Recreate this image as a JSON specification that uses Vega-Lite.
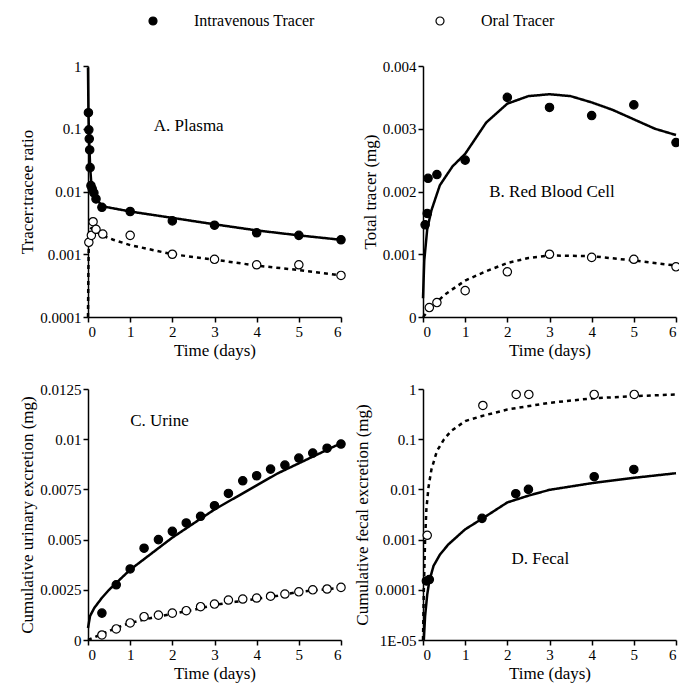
{
"$schema":"https://vega.github.io/schema/vega-lite/v6.json",
"background":"white",
"padding":{"left":18,"top":13,"right":0,"bottom":4},
"datasets":{
"pts":[
{"p":"A","tr":"Intravenous Tracer","t":0.01,"v":0.18},{"p":"A","tr":"Intravenous Tracer","t":0.02,"v":0.096},{"p":"A","tr":"Intravenous Tracer","t":0.03,"v":0.069},{"p":"A","tr":"Intravenous Tracer","t":0.04,"v":0.046},{"p":"A","tr":"Intravenous Tracer","t":0.05,"v":0.024},{"p":"A","tr":"Intravenous Tracer","t":0.07,"v":0.0124},{"p":"A","tr":"Intravenous Tracer","t":0.1,"v":0.011},{"p":"A","tr":"Intravenous Tracer","t":0.14,"v":0.0095},{"p":"A","tr":"Intravenous Tracer","t":0.19,"v":0.0076},{"p":"A","tr":"Intravenous Tracer","t":0.33,"v":0.0056},{"p":"A","tr":"Intravenous Tracer","t":1,"v":0.0048},{"p":"A","tr":"Intravenous Tracer","t":2,"v":0.0034},{"p":"A","tr":"Intravenous Tracer","t":3,"v":0.0029},{"p":"A","tr":"Intravenous Tracer","t":4,"v":0.0022},{"p":"A","tr":"Intravenous Tracer","t":5,"v":0.002},{"p":"A","tr":"Intravenous Tracer","t":6,"v":0.0017},
{"p":"A","tr":"Oral Tracer","t":0.02,"v":0.00155},{"p":"A","tr":"Oral Tracer","t":0.08,"v":0.002},{"p":"A","tr":"Oral Tracer","t":0.12,"v":0.0033},{"p":"A","tr":"Oral Tracer","t":0.19,"v":0.0025},{"p":"A","tr":"Oral Tracer","t":0.35,"v":0.0021},{"p":"A","tr":"Oral Tracer","t":1,"v":0.002},{"p":"A","tr":"Oral Tracer","t":2,"v":0.001},{"p":"A","tr":"Oral Tracer","t":3,"v":0.00083},{"p":"A","tr":"Oral Tracer","t":4,"v":0.00068},{"p":"A","tr":"Oral Tracer","t":5,"v":0.00068},{"p":"A","tr":"Oral Tracer","t":6,"v":0.00046},
{"p":"B","tr":"Intravenous Tracer","t":0.05,"v":0.00147},{"p":"B","tr":"Intravenous Tracer","t":0.1,"v":0.00165},{"p":"B","tr":"Intravenous Tracer","t":0.12,"v":0.00221},{"p":"B","tr":"Intravenous Tracer","t":0.33,"v":0.00227},{"p":"B","tr":"Intravenous Tracer","t":1,"v":0.0025},{"p":"B","tr":"Intravenous Tracer","t":2,"v":0.0035},{"p":"B","tr":"Intravenous Tracer","t":3,"v":0.00334},{"p":"B","tr":"Intravenous Tracer","t":4,"v":0.00321},{"p":"B","tr":"Intravenous Tracer","t":5,"v":0.00338},{"p":"B","tr":"Intravenous Tracer","t":6,"v":0.00278},
{"p":"B","tr":"Oral Tracer","t":0.15,"v":0.00015},{"p":"B","tr":"Oral Tracer","t":0.33,"v":0.00023},{"p":"B","tr":"Oral Tracer","t":1,"v":0.00042},{"p":"B","tr":"Oral Tracer","t":2,"v":0.00072},{"p":"B","tr":"Oral Tracer","t":3,"v":0.001},{"p":"B","tr":"Oral Tracer","t":4,"v":0.00095},{"p":"B","tr":"Oral Tracer","t":5,"v":0.00092},{"p":"B","tr":"Oral Tracer","t":6,"v":0.0008},
{"p":"C","tr":"Intravenous Tracer","t":0.33,"v":0.00134},{"p":"C","tr":"Intravenous Tracer","t":0.67,"v":0.00275},{"p":"C","tr":"Intravenous Tracer","t":1,"v":0.00354},{"p":"C","tr":"Intravenous Tracer","t":1.33,"v":0.00457},{"p":"C","tr":"Intravenous Tracer","t":1.67,"v":0.005},{"p":"C","tr":"Intravenous Tracer","t":2,"v":0.00541},{"p":"C","tr":"Intravenous Tracer","t":2.33,"v":0.00583},{"p":"C","tr":"Intravenous Tracer","t":2.67,"v":0.00616},{"p":"C","tr":"Intravenous Tracer","t":3,"v":0.00669},{"p":"C","tr":"Intravenous Tracer","t":3.33,"v":0.0073},{"p":"C","tr":"Intravenous Tracer","t":3.67,"v":0.00793},{"p":"C","tr":"Intravenous Tracer","t":4,"v":0.00818},{"p":"C","tr":"Intravenous Tracer","t":4.33,"v":0.00851},{"p":"C","tr":"Intravenous Tracer","t":4.67,"v":0.00871},{"p":"C","tr":"Intravenous Tracer","t":5,"v":0.00906},{"p":"C","tr":"Intravenous Tracer","t":5.33,"v":0.00931},{"p":"C","tr":"Intravenous Tracer","t":5.67,"v":0.00955},{"p":"C","tr":"Intravenous Tracer","t":6,"v":0.00976},
{"p":"C","tr":"Oral Tracer","t":0.33,"v":0.00025},{"p":"C","tr":"Oral Tracer","t":0.67,"v":0.00055},{"p":"C","tr":"Oral Tracer","t":1,"v":0.00085},{"p":"C","tr":"Oral Tracer","t":1.33,"v":0.00116},{"p":"C","tr":"Oral Tracer","t":1.67,"v":0.00124},{"p":"C","tr":"Oral Tracer","t":2,"v":0.00134},{"p":"C","tr":"Oral Tracer","t":2.33,"v":0.00146},{"p":"C","tr":"Oral Tracer","t":2.67,"v":0.00166},{"p":"C","tr":"Oral Tracer","t":3,"v":0.00179},{"p":"C","tr":"Oral Tracer","t":3.33,"v":0.00199},{"p":"C","tr":"Oral Tracer","t":3.67,"v":0.00204},{"p":"C","tr":"Oral Tracer","t":4,"v":0.00209},{"p":"C","tr":"Oral Tracer","t":4.33,"v":0.00218},{"p":"C","tr":"Oral Tracer","t":4.67,"v":0.00229},{"p":"C","tr":"Oral Tracer","t":5,"v":0.0024},{"p":"C","tr":"Oral Tracer","t":5.33,"v":0.0025},{"p":"C","tr":"Oral Tracer","t":5.67,"v":0.00254},{"p":"C","tr":"Oral Tracer","t":6,"v":0.00262},
{"p":"D","tr":"Oral Tracer","t":0.1,"v":0.00122},{"p":"D","tr":"Oral Tracer","t":1.42,"v":0.47},{"p":"D","tr":"Oral Tracer","t":2.21,"v":0.78},{"p":"D","tr":"Oral Tracer","t":2.51,"v":0.78},{"p":"D","tr":"Oral Tracer","t":4.06,"v":0.78},{"p":"D","tr":"Oral Tracer","t":5.01,"v":0.78},
{"p":"D","tr":"Intravenous Tracer","t":0.08,"v":0.00015},{"p":"D","tr":"Intravenous Tracer","t":0.15,"v":0.00016},{"p":"D","tr":"Intravenous Tracer","t":1.4,"v":0.00265},{"p":"D","tr":"Intravenous Tracer","t":2.2,"v":0.0082},{"p":"D","tr":"Intravenous Tracer","t":2.5,"v":0.01},{"p":"D","tr":"Intravenous Tracer","t":4.06,"v":0.0179},{"p":"D","tr":"Intravenous Tracer","t":5.0,"v":0.025}
],
"fits":[
{"p":"A","fit":"Intravenous","t":0,"v":0.95},{"p":"A","fit":"Intravenous","t":0.01,"v":0.2},{"p":"A","fit":"Intravenous","t":0.02,"v":0.1},{"p":"A","fit":"Intravenous","t":0.03,"v":0.06},{"p":"A","fit":"Intravenous","t":0.05,"v":0.025},{"p":"A","fit":"Intravenous","t":0.08,"v":0.013},{"p":"A","fit":"Intravenous","t":0.12,"v":0.0095},{"p":"A","fit":"Intravenous","t":0.2,"v":0.0075},{"p":"A","fit":"Intravenous","t":0.35,"v":0.0058},{"p":"A","fit":"Intravenous","t":1,"v":0.0048},{"p":"A","fit":"Intravenous","t":2,"v":0.0038},{"p":"A","fit":"Intravenous","t":3,"v":0.003},{"p":"A","fit":"Intravenous","t":4,"v":0.0024},{"p":"A","fit":"Intravenous","t":5,"v":0.002},{"p":"A","fit":"Intravenous","t":6,"v":0.0017},
{"p":"A","fit":"Oral","t":0,"v":0.0001},{"p":"A","fit":"Oral","t":0.01,"v":0.0006},{"p":"A","fit":"Oral","t":0.02,"v":0.0015},{"p":"A","fit":"Oral","t":0.04,"v":0.0024},{"p":"A","fit":"Oral","t":0.08,"v":0.0026},{"p":"A","fit":"Oral","t":0.15,"v":0.0024},{"p":"A","fit":"Oral","t":0.33,"v":0.002},{"p":"A","fit":"Oral","t":0.6,"v":0.0017},{"p":"A","fit":"Oral","t":1,"v":0.0014},{"p":"A","fit":"Oral","t":2,"v":0.001},{"p":"A","fit":"Oral","t":3,"v":0.00082},{"p":"A","fit":"Oral","t":4,"v":0.00066},{"p":"A","fit":"Oral","t":5,"v":0.00056},{"p":"A","fit":"Oral","t":6,"v":0.00046},
{"p":"B","fit":"Intravenous","t":0,"v":0.0003},{"p":"B","fit":"Intravenous","t":0.03,"v":0.0009},{"p":"B","fit":"Intravenous","t":0.1,"v":0.0014},{"p":"B","fit":"Intravenous","t":0.2,"v":0.0017},{"p":"B","fit":"Intravenous","t":0.4,"v":0.0021},{"p":"B","fit":"Intravenous","t":0.7,"v":0.0024},{"p":"B","fit":"Intravenous","t":1,"v":0.0026},{"p":"B","fit":"Intravenous","t":1.5,"v":0.0031},{"p":"B","fit":"Intravenous","t":2,"v":0.0034},{"p":"B","fit":"Intravenous","t":2.5,"v":0.00352},{"p":"B","fit":"Intravenous","t":3,"v":0.00355},{"p":"B","fit":"Intravenous","t":3.5,"v":0.00352},{"p":"B","fit":"Intravenous","t":4,"v":0.00342},{"p":"B","fit":"Intravenous","t":4.5,"v":0.0033},{"p":"B","fit":"Intravenous","t":5,"v":0.00315},{"p":"B","fit":"Intravenous","t":5.5,"v":0.003},{"p":"B","fit":"Intravenous","t":6,"v":0.0029},
{"p":"B","fit":"Oral","t":0,"v":0},{"p":"B","fit":"Oral","t":0.2,"v":0.00015},{"p":"B","fit":"Oral","t":0.5,"v":0.00035},{"p":"B","fit":"Oral","t":1,"v":0.00058},{"p":"B","fit":"Oral","t":1.5,"v":0.00073},{"p":"B","fit":"Oral","t":2,"v":0.00086},{"p":"B","fit":"Oral","t":2.5,"v":0.00094},{"p":"B","fit":"Oral","t":3,"v":0.00098},{"p":"B","fit":"Oral","t":4,"v":0.00097},{"p":"B","fit":"Oral","t":5,"v":0.0009},{"p":"B","fit":"Oral","t":6,"v":0.00082},
{"p":"C","fit":"Intravenous","t":0,"v":0.0006},{"p":"C","fit":"Intravenous","t":0.05,"v":0.0012},{"p":"C","fit":"Intravenous","t":0.15,"v":0.0016},{"p":"C","fit":"Intravenous","t":0.33,"v":0.0021},{"p":"C","fit":"Intravenous","t":0.5,"v":0.0025},{"p":"C","fit":"Intravenous","t":0.75,"v":0.003},{"p":"C","fit":"Intravenous","t":1,"v":0.0035},{"p":"C","fit":"Intravenous","t":1.5,"v":0.0043},{"p":"C","fit":"Intravenous","t":2,"v":0.0051},{"p":"C","fit":"Intravenous","t":2.5,"v":0.0058},{"p":"C","fit":"Intravenous","t":3,"v":0.0065},{"p":"C","fit":"Intravenous","t":3.5,"v":0.0071},{"p":"C","fit":"Intravenous","t":4,"v":0.0077},{"p":"C","fit":"Intravenous","t":4.5,"v":0.0083},{"p":"C","fit":"Intravenous","t":5,"v":0.0088},{"p":"C","fit":"Intravenous","t":5.5,"v":0.0093},{"p":"C","fit":"Intravenous","t":6,"v":0.0098},
{"p":"C","fit":"Oral","t":0,"v":0},{"p":"C","fit":"Oral","t":0.33,"v":0.0003},{"p":"C","fit":"Oral","t":0.67,"v":0.0006},{"p":"C","fit":"Oral","t":1,"v":0.00085},{"p":"C","fit":"Oral","t":1.5,"v":0.0011},{"p":"C","fit":"Oral","t":2,"v":0.0013},{"p":"C","fit":"Oral","t":2.5,"v":0.0015},{"p":"C","fit":"Oral","t":3,"v":0.00175},{"p":"C","fit":"Oral","t":3.5,"v":0.0019},{"p":"C","fit":"Oral","t":4,"v":0.00205},{"p":"C","fit":"Oral","t":4.5,"v":0.0022},{"p":"C","fit":"Oral","t":5,"v":0.0024},{"p":"C","fit":"Oral","t":5.5,"v":0.0025},{"p":"C","fit":"Oral","t":6,"v":0.0026},
{"p":"D","fit":"Intravenous","t":0.02,"v":0.00001},{"p":"D","fit":"Intravenous","t":0.05,"v":0.00003},{"p":"D","fit":"Intravenous","t":0.1,"v":0.00008},{"p":"D","fit":"Intravenous","t":0.15,"v":0.00015},{"p":"D","fit":"Intravenous","t":0.25,"v":0.0003},{"p":"D","fit":"Intravenous","t":0.4,"v":0.0005},{"p":"D","fit":"Intravenous","t":0.6,"v":0.0008},{"p":"D","fit":"Intravenous","t":1,"v":0.0016},{"p":"D","fit":"Intravenous","t":1.4,"v":0.0026},{"p":"D","fit":"Intravenous","t":2,"v":0.0055},{"p":"D","fit":"Intravenous","t":2.5,"v":0.0075},{"p":"D","fit":"Intravenous","t":3,"v":0.0098},{"p":"D","fit":"Intravenous","t":4,"v":0.0133},{"p":"D","fit":"Intravenous","t":5,"v":0.017},{"p":"D","fit":"Intravenous","t":6,"v":0.021},
{"p":"D","fit":"Oral","t":0,"v":0.00001},{"p":"D","fit":"Oral","t":0.02,"v":0.0001},{"p":"D","fit":"Oral","t":0.05,"v":0.001},{"p":"D","fit":"Oral","t":0.08,"v":0.004},{"p":"D","fit":"Oral","t":0.13,"v":0.011},{"p":"D","fit":"Oral","t":0.2,"v":0.025},{"p":"D","fit":"Oral","t":0.33,"v":0.058},{"p":"D","fit":"Oral","t":0.5,"v":0.1},{"p":"D","fit":"Oral","t":0.67,"v":0.146},{"p":"D","fit":"Oral","t":1,"v":0.23},{"p":"D","fit":"Oral","t":1.4,"v":0.29},{"p":"D","fit":"Oral","t":2,"v":0.39},{"p":"D","fit":"Oral","t":3,"v":0.53},{"p":"D","fit":"Oral","t":4,"v":0.65},{"p":"D","fit":"Oral","t":5,"v":0.72},{"p":"D","fit":"Oral","t":6,"v":0.78}
],
"labels":[
{"p":"A","t":1.56,"v":0.11,"label":"A. Plasma"},
{"p":"B","t":1.57,"v":0.002,"label":"B. Red Blood Cell"},
{"p":"C","t":1.0,"v":0.0109,"label":"C. Urine"},
{"p":"D","t":2.1,"v":0.00041,"label":"D. Fecal"}
]
},
"columns":2,
"spacing":{"row":72,"column":82},
"bounds":"flush",
"concat":[
{"width":253,"height":251,
 "encoding":{
  "x":{"field":"t","type":"quantitative","scale":{"domain":[0,6],"nice":false},"axis":{"values":[0,1,2,3,4,5,6],"title":"Time (days)"}},
  "y":{"field":"v","type":"quantitative","scale":{"type":"log","domain":[0.0001,1],"nice":false},"axis":{"values":[0.0001,0.001,0.01,0.1,1],"labelExpr":"format(datum.value, '~g')","title":"Tracer:tracee ratio"}}
 },
 "layer":[
  {"data":{"name":"fits"},"transform":[{"filter":"datum.p==='A'"}],"mark":{"type":"line","color":"black","strokeWidth":2.5},"encoding":{"strokeDash":{"field":"fit","type":"nominal","scale":{"domain":["Intravenous","Oral"],"range":[[1,0],[4,4]]},"legend":null},"order":{"field":"t"}}},
  {"data":{"name":"pts"},"transform":[{"filter":"datum.p==='A'"}],"mark":{"type":"point","shape":"circle","filled":true,"stroke":"black","strokeWidth":1.2,"size":70,"opacity":1},"encoding":{"fill":{"field":"tr","type":"nominal","scale":{"domain":["Intravenous Tracer","Oral Tracer"],"range":["black","white"]},"legend":{"title":null,"orient":"none","legendX":57,"legendY":-53,"direction":"horizontal"}}}},
  {"data":{"name":"labels"},"transform":[{"filter":"datum.p==='A'"}],"mark":{"type":"text","align":"left","baseline":"middle","font":"Liberation Serif","fontSize":17,"color":"black"},"encoding":{"text":{"field":"label"}}}
 ]},
{"width":253,"height":251,
 "encoding":{
  "x":{"field":"t","type":"quantitative","scale":{"domain":[0,6],"nice":false},"axis":{"values":[0,1,2,3,4,5,6],"title":"Time (days)"}},
  "y":{"field":"v","type":"quantitative","scale":{"domain":[0,0.004],"nice":false},"axis":{"values":[0,0.001,0.002,0.003,0.004],"labelExpr":"format(datum.value, '~g')","title":"Total tracer (mg)"}}
 },
 "layer":[
  {"data":{"name":"fits"},"transform":[{"filter":"datum.p==='B'"}],"mark":{"type":"line","color":"black","strokeWidth":2.5},"encoding":{"strokeDash":{"field":"fit","type":"nominal","scale":{"domain":["Intravenous","Oral"],"range":[[1,0],[4,4]]},"legend":null},"order":{"field":"t"}}},
  {"data":{"name":"pts"},"transform":[{"filter":"datum.p==='B'"}],"mark":{"type":"point","shape":"circle","filled":true,"stroke":"black","strokeWidth":1.2,"size":70,"opacity":1},"encoding":{"fill":{"field":"tr","type":"nominal","scale":{"domain":["Intravenous Tracer","Oral Tracer"],"range":["black","white"]},"legend":{"title":null,"orient":"none","legendX":57,"legendY":-53,"direction":"horizontal"}}}},
  {"data":{"name":"labels"},"transform":[{"filter":"datum.p==='B'"}],"mark":{"type":"text","align":"left","baseline":"middle","font":"Liberation Serif","fontSize":17,"color":"black"},"encoding":{"text":{"field":"label"}}}
 ]},
{"width":253,"height":251,
 "encoding":{
  "x":{"field":"t","type":"quantitative","scale":{"domain":[0,6],"nice":false},"axis":{"values":[0,1,2,3,4,5,6],"title":"Time (days)"}},
  "y":{"field":"v","type":"quantitative","scale":{"domain":[0,0.0125],"nice":false},"axis":{"values":[0,0.0025,0.005,0.0075,0.01,0.0125],"labelExpr":"format(datum.value, '~g')","title":"Cumulative urinary excretion (mg)"}}
 },
 "layer":[
  {"data":{"name":"fits"},"transform":[{"filter":"datum.p==='C'"}],"mark":{"type":"line","color":"black","strokeWidth":2.5},"encoding":{"strokeDash":{"field":"fit","type":"nominal","scale":{"domain":["Intravenous","Oral"],"range":[[1,0],[4,4]]},"legend":null},"order":{"field":"t"}}},
  {"data":{"name":"pts"},"transform":[{"filter":"datum.p==='C'"}],"mark":{"type":"point","shape":"circle","filled":true,"stroke":"black","strokeWidth":1.2,"size":70,"opacity":1},"encoding":{"fill":{"field":"tr","type":"nominal","scale":{"domain":["Intravenous Tracer","Oral Tracer"],"range":["black","white"]},"legend":{"title":null,"orient":"none","legendX":57,"legendY":-53,"direction":"horizontal"}}}},
  {"data":{"name":"labels"},"transform":[{"filter":"datum.p==='C'"}],"mark":{"type":"text","align":"left","baseline":"middle","font":"Liberation Serif","fontSize":17,"color":"black"},"encoding":{"text":{"field":"label"}}}
 ]},
{"width":253,"height":251,
 "encoding":{
  "x":{"field":"t","type":"quantitative","scale":{"domain":[0,6],"nice":false},"axis":{"values":[0,1,2,3,4,5,6],"title":"Time (days)"}},
  "y":{"field":"v","type":"quantitative","scale":{"type":"log","domain":[0.00001,1],"nice":false},"axis":{"values":[0.00001,0.0001,0.001,0.01,0.1,1],"labelExpr":"datum.value < 0.00005 ? '1E-05' : format(datum.value, '~g')","title":"Cumulative fecal excretion (mg)"}}
 },
 "layer":[
  {"data":{"name":"fits"},"transform":[{"filter":"datum.p==='D'"}],"mark":{"type":"line","color":"black","strokeWidth":2.5},"encoding":{"strokeDash":{"field":"fit","type":"nominal","scale":{"domain":["Intravenous","Oral"],"range":[[1,0],[4,4]]},"legend":null},"order":{"field":"t"}}},
  {"data":{"name":"pts"},"transform":[{"filter":"datum.p==='D'"}],"mark":{"type":"point","shape":"circle","filled":true,"stroke":"black","strokeWidth":1.2,"size":70,"opacity":1},"encoding":{"fill":{"field":"tr","type":"nominal","scale":{"domain":["Intravenous Tracer","Oral Tracer"],"range":["black","white"]},"legend":{"title":null,"orient":"none","legendX":57,"legendY":-53,"direction":"horizontal"}}}},
  {"data":{"name":"labels"},"transform":[{"filter":"datum.p==='D'"}],"mark":{"type":"text","align":"left","baseline":"middle","font":"Liberation Serif","fontSize":17,"color":"black"},"encoding":{"text":{"field":"label"}}}
 ]}
],
"config":{
 "view":{"stroke":null},
 "axis":{"grid":false,"domainColor":"black","domainWidth":1.5,"tickColor":"black","tickWidth":1.5,"tickSize":5,"labelFont":"Liberation Serif","labelFontSize":15,"labelColor":"black","labelPadding":2,"titleFont":"Liberation Serif","titleFontSize":17,"titleFontWeight":"normal","titleColor":"black","titlePadding":3},
 "legend":{"labelFont":"Liberation Serif","labelFontSize":16,"labelColor":"black","labelOffset":33,"columnPadding":117,"symbolStrokeColor":"black","symbolStrokeWidth":1.2,"symbolSize":64,"symbolType":"circle","padding":0}
}
}
